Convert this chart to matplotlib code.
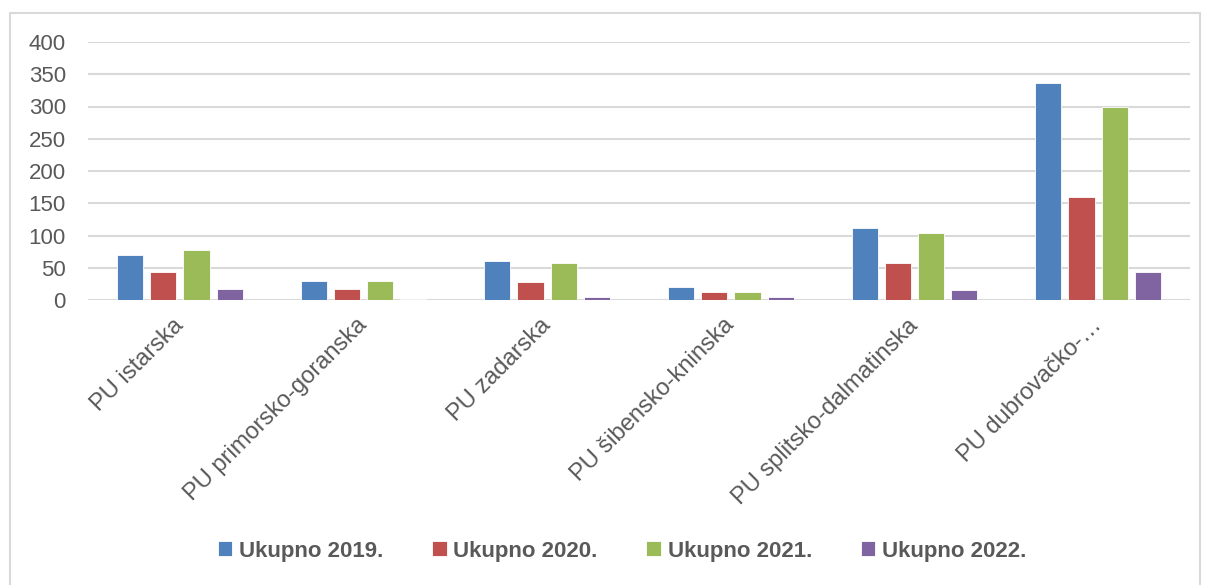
import matplotlib
matplotlib.use("Agg")
import matplotlib.pyplot as plt
from matplotlib.patches import Rectangle
import numpy as np

plt.rcParams['font.family'] = ['Liberation Sans', 'DejaVu Sans']

categories = ["PU istarska", "PU primorsko-goranska", "PU zadarska",
              "PU šibensko-kninska", "PU splitsko-dalmatinska", "PU dubrovačko-…"]
series_names = ["Ukupno 2019.", "Ukupno 2020.", "Ukupno 2021.", "Ukupno 2022."]
ukupno_2019 = [70, 30, 60, 20, 112, 336]
ukupno_2020 = [43, 17, 28, 13, 57, 160]
ukupno_2021 = [78, 30, 57, 12, 104, 300]
ukupno_2022 = [17, 2, 4, 4, 15, 44]
colors = ["#4F81BD", "#C0504D", "#9BBB59", "#8064A2"]

def main():
    fig = plt.figure(figsize=(12.09, 5.85), dpi=100)
    ax = fig.add_axes([88/1209, 1-300/585, 1102/1209, 258/585])

    x = np.arange(len(categories))
    step = 0.181
    width = 0.143
    data = [ukupno_2019, ukupno_2020, ukupno_2021, ukupno_2022]
    for i, vals in enumerate(data):
        ax.bar(x + (i - 1.5)*step, vals, width, color=colors[i], label=series_names[i],
               edgecolor='white', linewidth=0.6, zorder=3)

    ax.set_xlim(-0.5, len(categories) - 0.5)
    ax.set_ylim(0, 400)
    ax.set_yticks(range(0, 401, 50))
    ax.yaxis.grid(True, color='#D9D9D9', linewidth=1.5, zorder=0)
    ax.set_axisbelow(True)
    for s in ax.spines.values():
        s.set_visible(False)
    ax.tick_params(axis='y', length=0, pad=16, labelsize=16, labelcolor='#595959')
    ax.tick_params(axis='x', length=0, pad=16, labelsize=17, labelcolor='#595959')
    ax.set_xticks(x)
    ax.set_xticklabels(categories, rotation=45, ha='right', va='center', rotation_mode='anchor')

    fig.legend(loc='center', bbox_to_anchor=(622/1209, 1-551/585), ncol=4, frameon=False,
               prop={'weight': 'bold', 'size': 16}, labelcolor='#595959',
               handlelength=0.65, handleheight=0.65, handletextpad=0.3, columnspacing=2.2)

    fig.patches.append(Rectangle((10/1209, -0.02), 1190/1209, 1.02 - 13/585,
                                 transform=fig.transFigure, fill=False,
                                 edgecolor='#D9D9D9', linewidth=1.5))
    fig.savefig("out.png", dpi=100)

if __name__ == "__main__":
    main()
